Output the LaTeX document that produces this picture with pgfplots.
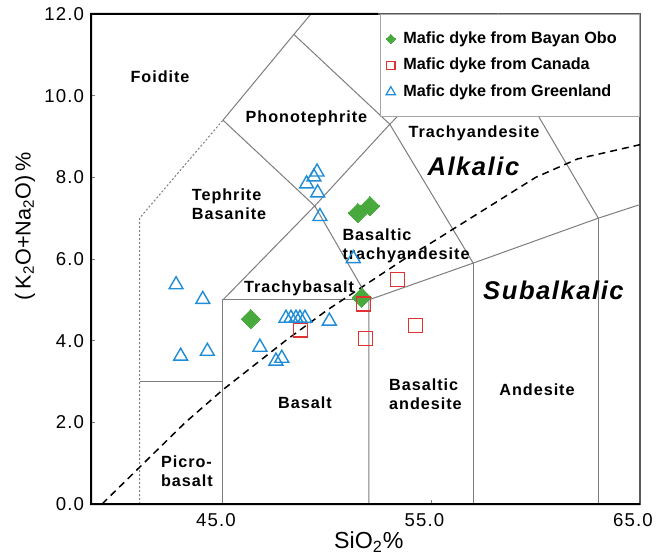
\documentclass[border=0pt]{standalone}
\usepackage{fontspec}
\setmainfont{Liberation Sans}
\newfontfamily\lab[LetterSpace=6]{Liberation Sans}
\usepackage{pgfplots}
\pgfplotsset{compat=1.18}
\usetikzlibrary{calc}
\definecolor{dgreen}{RGB}{72,170,60}
\definecolor{dred}{RGB}{225,50,50}
\definecolor{dblue}{RGB}{30,140,215}
\definecolor{bline}{RGB}{125,125,125}

\begin{document}
\begin{tikzpicture}
\begin{axis}[name=ax, at={(0,0)}, anchor=south west,
  scale only axis, width=274.5pt, height=245pt,
  xmin=38.67, xmax=65, ymin=0, ymax=12,
  axis line style={draw=gray!70!black, line width=0.6pt},
  xtick={45,55,65}, xticklabels={45.0,55.0,65.0},
  ytick={0,2,...,12}, yticklabels={0.0,2.0,4.0,6.0,8.0,10.0,12.0},
  tick pos=left, tick align=inside, major tick length=1.8pt,
  tick style={gray, line width=0.5pt},
  ticklabel style={font=\lab\fontsize{9.3}{10}\selectfont},
  xticklabel style={xshift=-3.5pt, yshift=-1pt},
  xlabel={SiO\textsubscript{2}\%},
  xlabel style={font=\fontsize{11.6}{13}\selectfont, at={(axis description cs:0.506,-0.078)}, anchor=center},
  ylabel={(\,K\textsubscript{2}O+Na\textsubscript{2}O)\,\%},
  ylabel style={font=\fontsize{10.8}{12}\selectfont, at={(axis description cs:-0.12,0.567)}, anchor=center, rotate=0},
  legend style={at={(axis description cs:1,1)}, anchor=north east,
    draw=gray!70, line width=0.6pt, fill=white,
    font=\bfseries\fontsize{8.1}{9}\selectfont,
    inner xsep=2pt, inner ysep=7.5pt, row sep=3.9pt, column sep=0pt,
    nodes={inner sep=1pt},
    cells={anchor=west}},
  legend image code/.code={\path (-3pt,0pt) (5pt,0pt); \draw[mark repeat=2,mark phase=2,#1] plot coordinates {(-1pt,0pt) (0pt,0pt) (1pt,0pt)};},
]
% boundaries
\addplot[forget plot, bline, line width=0.5pt] coordinates {(41,3) (45,3)};
\addplot[forget plot, bline, line width=0.5pt] coordinates {(45,0) (45,5) (52,5)};
\addplot[forget plot, bline, line width=0.5pt] coordinates {(52,0) (52,5) (57,5.9) (63,7) (69,8)};
\addplot[forget plot, bline, line width=0.5pt] coordinates {(57,0) (57,5.9)};
\addplot[forget plot, bline, line width=0.5pt] coordinates {(63,0) (63,7)};
\addplot[forget plot, bline, line width=0.5pt] coordinates {(45,5) (49.4,7.3) (52,5)};
\addplot[forget plot, bline, line width=0.5pt] coordinates {(49.4,7.3) (53,9.3) (57,5.9)};
\addplot[forget plot, bline, line width=0.5pt] coordinates {(45,9.4) (49.4,7.3)};
\addplot[forget plot, bline, line width=0.5pt] coordinates {(45,9.4) (48.4,11.5) (52.5,14)};
\addplot[forget plot, bline, line width=0.5pt] coordinates {(48.4,11.5) (53,9.3) (57.6,11.7) (61,13.5)};
\addplot[forget plot, bline, line width=0.5pt] coordinates {(57.6,11.7) (63,7)};
\addplot[forget plot, bline, line width=0.5pt, dash pattern=on 1pt off 1pt] coordinates {(41,0) (41,7) (45,9.4)};
% alkalic / subalkalic
\addplot[forget plot, black, line width=0.75pt, dash pattern=on 3.5pt off 2.5pt] coordinates {(39.2,0) (40,0.4) (43.2,2) (45,2.8) (48,4) (50,4.75) (53.7,6) (55,6.4) (60,8) (62,8.45) (65,8.8)};
% labels
\begin{scope}[every node/.style={font=\lab\bfseries\fontsize{8.1}{9.5}\selectfont, align=left}]
\node at (axis cs:41.98,10.46) {Foidite};
\node at (axis cs:49.0,9.45) {Phonotephrite};
\node at (axis cs:45.29,7.35) {Tephrite\\Basanite};
\node at (axis cs:57.04,9.09) {Trachyandesite};
\node at (axis cs:53.78,6.32) {Basaltic\\trachyandesite};
\node at (axis cs:48.65,5.27) {Trachybasalt};
\node at (axis cs:48.93,2.47) {Basalt};
\node at (axis cs:54.71,2.68) {Basaltic\\andesite};
\node at (axis cs:60.06,2.79) {Andesite};
\node at (axis cs:43.27,0.81) {Picro-\\basalt};
\end{scope}
\node[font=\lab\bfseries\itshape\fontsize{12.8}{14}\selectfont] at (axis cs:57.01,8.26) {Alkalic};
\node[font=\lab\bfseries\itshape\fontsize{12.8}{14}\selectfont] at (axis cs:60.85,5.24) {Subalkalic};
% data
\addplot[forget plot, dgreen, only marks, mark=square*, mark size=3.4pt, mark options={rotate=45, fill=dgreen, draw=dgreen, line width=0pt}] coordinates {
(46.33,4.53) (51.47,7.13) (52.05,7.30) (51.65,5.06)};
\addplot[forget plot, dred, only marks, mark=square, mark size=3.5pt, mark options={draw=dred, line width=0.6pt}] coordinates {
(48.73,4.26) (53.36,5.49) (51.73,4.90) (54.24,4.37) (51.84,4.06)};
\addplot[forget plot, dblue, only marks, mark=triangle, mark size=4pt, mark options={draw=dblue, line width=0.7pt}] coordinates {
(49.51,8.13) (49.36,8.01) (49.01,7.84) (49.54,7.62) (49.65,7.04) (51.25,6.01)
(42.75,5.37) (44.03,5.01) (42.97,3.62) (44.25,3.74)
(48.02,4.55) (48.26,4.55) (48.50,4.55) (48.69,4.55) (48.93,4.55)
(50.10,4.48) (46.77,3.84) (47.54,3.50) (47.82,3.57)};
\addlegendimage{dgreen, only marks, mark=square*, mark size=1.65pt, mark options={rotate=45, fill=dgreen, draw=dgreen, line width=0pt}}
\addlegendentry{\makebox[115pt][l]{Mafic dyke from Bayan Obo}}
\addlegendimage{dred, only marks, mark=square, mark size=2.1pt, mark options={draw=dred, line width=0.6pt}}
\addlegendentry{\makebox[115pt][l]{Mafic dyke from Canada}}
\addlegendimage{dblue, only marks, mark=triangle, mark size=2.7pt, mark options={draw=dblue, line width=0.6pt}}
\addlegendentry{\makebox[115pt][l]{Mafic dyke from Greenland}}
\end{axis}
\draw[black, line width=1pt] ($(ax.north west)!0.523!(ax.north east)$) -- (ax.north west) -- (ax.south west) -- (ax.south east);
\pgfresetboundingbox
\path (-45.5pt,-26pt) rectangle (288pt,252pt);
\end{tikzpicture}
\end{document}
